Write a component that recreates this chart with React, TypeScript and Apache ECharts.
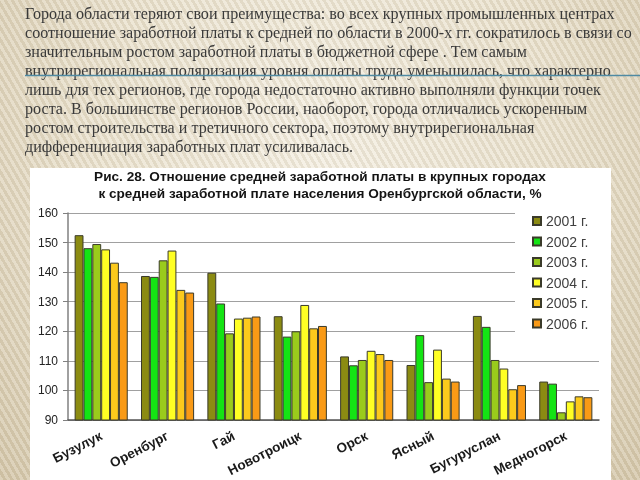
import React, { useEffect, useRef } from "react";
import * as echarts from "echarts";

const categories = ["Бузулук", "Оренбург", "Гай", "Новотроицк", "Орск", "Ясный", "Бугуруслан", "Медногорск"];
const seriesNames = ["2001 г.", "2002 г.", "2003 г.", "2004 г.", "2005 г.", "2006 г."];
const v2001 = [152.5, 138.7, 139.8, 125.1, 111.5, 108.6, 125.2, 103.0];
const v2002 = [148.1, 138.4, 129.4, 118.2, 108.5, 118.7, 121.5, 102.3];
const v2003 = [149.5, 144.0, 119.3, 120.0, 110.3, 102.8, 110.3, 92.6];
const v2004 = [147.7, 147.3, 124.3, 128.9, 113.4, 113.8, 107.4, 96.3];
const v2005 = [143.2, 134.0, 124.6, 121.0, 112.3, 104.0, 100.4, 98.0];
const v2006 = [136.6, 133.1, 125.0, 121.8, 110.3, 103.0, 101.8, 97.7];
const allValues = [v2001, v2002, v2003, v2004, v2005, v2006];
const yMin = 90;
const yMax = 160;
const yStep = 10;

const titleText = "Рис. 28. Отношение средней заработной платы в крупных городах\nк средней заработной плате населения Оренбургской области, %";
const paragraph = [
  "Города области теряют свои преимущества: во всех крупных промышленных центрах",
  "соотношение заработной платы к средней по области в 2000-х гг. сократилось в связи со",
  "значительным ростом заработной платы в бюджетной сфере . Тем самым",
  "внутрирегиональная поляризация уровня оплаты труда уменьшилась, что характерно",
  "лишь для тех регионов, где города недостаточно активно выполняли функции точек",
  "роста. В большинстве регионов России, наоборот, города отличались ускоренным",
  "ростом строительства и третичного сектора, поэтому внутрирегиональная",
  "дифференциация заработных плат усиливалась.",
];

const colors = ["#8b8b12", "#14e414", "#9acb1c", "#ffff24", "#fcca1c", "#f99a16"];

export default function App() {
  const ref = useRef<HTMLDivElement>(null);
  useEffect(() => {
    if (!ref.current) return;
    const chart = echarts.init(ref.current, undefined, { renderer: "svg" });
    const graphics: any[] = paragraph.map((line, i) => ({
      type: "text",
      left: 25,
      top: 5 + i * 19,
      style: {
        text: line,
        fill: "#3a3a3a",
        font: '16.1px "Liberation Serif", serif',
      },
    }));
    graphics.push({
      type: "line",
      shape: { x1: 25, y1: 75.5, x2: 640, y2: 75.5 },
      style: { stroke: "#4f8aa3", lineWidth: 1.5 },
    });
    chart.setOption({
      animation: false,
      backgroundColor: "transparent",
      title: {
        text: titleText,
        left: 320,
        textAlign: "center",
        top: 168,
        padding: 0,
        textStyle: {
          fontFamily: '"Liberation Sans", Arial, sans-serif',
          fontSize: 13.6,
          fontWeight: "bold",
          color: "#141414",
          lineHeight: 17,
        },
      },
      legend: {
        orient: "vertical",
        left: 515,
        top: 205,
        padding: [8, 12, 8, 17],
        backgroundColor: "#ffffff",
        itemWidth: 8,
        itemHeight: 8,
        itemGap: 4.5,
        icon: "rect",
        data: seriesNames,
        textStyle: {
          fontFamily: '"Liberation Sans", Arial, sans-serif',
          fontSize: 14,
          color: "#404040",
          lineHeight: 16,
        },
      },
      grid: { left: 68, right: 41, top: 213, bottom: 60 },
      xAxis: {
        type: "category",
        data: categories,
        axisLine: { lineStyle: { color: "#555555", width: 1.5 } },
        axisTick: { show: false },
        axisLabel: {
          rotate: 27,
          margin: 15,
          interval: 0,
          fontFamily: '"Liberation Sans", Arial, sans-serif',
          fontSize: 13.5,
          fontWeight: "bold",
          color: "#1a1a1a",
        },
      },
      yAxis: {
        type: "value",
        min: yMin,
        max: yMax,
        interval: yStep,
        axisLine: { show: true, lineStyle: { color: "#808080", width: 1.5 } },
        axisTick: { show: true, length: 5, lineStyle: { color: "#808080" } },
        splitLine: { lineStyle: { color: "#a0a0a0", width: 1 } },
        axisLabel: {
          margin: 10,
          fontFamily: '"Liberation Sans", Arial, sans-serif',
          fontSize: 12,
          color: "#222222",
        },
      },
      series: seriesNames.map((name, i) => ({
        name,
        type: "bar",
        data: allValues[i],
        barGap: "0%",
        barCategoryGap: "20%",
        itemStyle: { color: colors[i], borderColor: "#3a3a2a", borderWidth: 1 },
      })),
      graphic: graphics,
    });
    return () => chart.dispose();
  }, []);

  return (
    <div
      style={{
        position: "fixed",
        left: 0,
        top: 0,
        width: 640,
        height: 480,
        overflow: "hidden",
        background:
          "repeating-linear-gradient(60deg, rgba(255,255,255,0.14) 0px, rgba(255,255,255,0.14) 3px, rgba(120,100,60,0.10) 3px, rgba(120,100,60,0.10) 6px), radial-gradient(ellipse at 50% 30%, #f5f0e4 0%, #ebe3d0 50%, #d6c9ad 100%)",
      }}
    >
      <div
        style={{
          position: "absolute",
          left: 30,
          top: 168,
          width: 581,
          height: 312,
          background: "#ffffff",
        }}
      />
      <div ref={ref} style={{ position: "absolute", left: 0, top: 0, width: 640, height: 480 }} />
    </div>
  );
}
